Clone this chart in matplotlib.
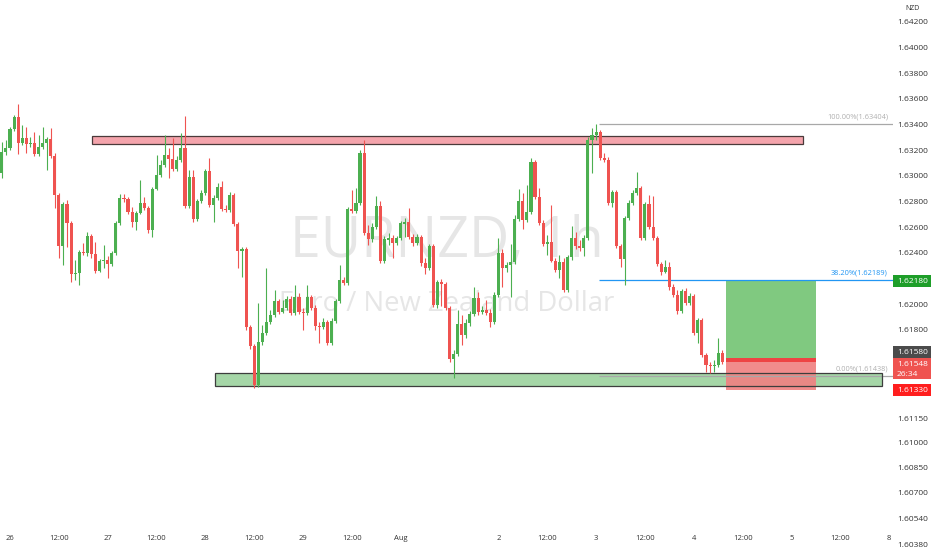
import numpy as np
import matplotlib
matplotlib.use("Agg")
import matplotlib.pyplot as plt
from matplotlib.patches import Rectangle
from matplotlib.transforms import IdentityTransform

plt.rcParams['font.family'] = ['Open Sans', 'DejaVu Sans']

# ---------------- data (EURNZD, 1h candles) ----------------
bar_index = list(range(-2, 176))

opens = [
    1.63024, 1.63186, 1.63218, 1.63366, 1.63460, 1.63257, 1.63296, 1.63249, 1.63257, 1.63171,
    1.63226, 1.63257, 1.63288, 1.63155, 1.62852, 1.62454, 1.62782, 1.62634, 1.62237, 1.62245,
    1.62407, 1.62400, 1.62532, 1.62392, 1.62260, 1.62338, 1.62345, 1.62314, 1.62400, 1.62634,
    1.62829, 1.62821, 1.62720, 1.62642, 1.62712, 1.62790, 1.62751, 1.62579, 1.62899, 1.63008,
    1.63086, 1.63163, 1.63132, 1.63054, 1.63124, 1.63218, 1.62766, 1.62992, 1.62665, 1.62805,
    1.62868, 1.63039, 1.62774, 1.62829, 1.62914, 1.62743, 1.62735, 1.62852, 1.62626, 1.62415,
    1.62431, 1.61823, 1.61675, 1.61371, 1.61706, 1.61777, 1.61862, 1.61917, 1.62026, 1.61940,
    1.61971, 1.62042, 1.61932, 1.62057, 1.61940, 1.61932, 1.62057, 1.61971, 1.61831, 1.61823,
    1.61862, 1.61699, 1.61870, 1.62026, 1.62190, 1.62166, 1.62743, 1.62727, 1.62790, 1.63179,
    1.62556, 1.62509, 1.62603, 1.62766, 1.62338, 1.62501, 1.62517, 1.62478, 1.62517, 1.62626,
    1.62642, 1.62524, 1.62478, 1.62524, 1.62322, 1.62283, 1.62454, 1.61995, 1.62174, 1.62159,
    1.61971, 1.61574, 1.61613, 1.61847, 1.61761, 1.61854, 1.61925, 1.62049, 1.61940, 1.61956,
    1.61932, 1.61862, 1.62073, 1.62400, 1.62283, 1.62306, 1.62330, 1.62665, 1.62805, 1.62657,
    1.62720, 1.63109, 1.62836, 1.62634, 1.62470, 1.62485, 1.62338, 1.62268, 1.62330, 1.62112,
    1.62369, 1.62517, 1.62454, 1.62439, 1.62517, 1.63280, 1.63319, 1.63342, 1.63140, 1.63124,
    1.62790, 1.62875, 1.62454, 1.62353, 1.62673, 1.62790, 1.62868, 1.62907, 1.62517, 1.62782,
    1.62603, 1.62517, 1.62314, 1.62252, 1.62291, 1.62135, 1.62073, 1.61948, 1.62104, 1.62010,
    1.62065, 1.61777, 1.61878, 1.61605, 1.61527, 1.61519, 1.61527, 1.61621,
]
highs = [
    1.63264, 1.63280, 1.63381, 1.63475, 1.63561, 1.63397, 1.63381, 1.63304, 1.63342, 1.63319,
    1.63381, 1.63304, 1.63374, 1.63179, 1.62868, 1.62797, 1.62813, 1.62649, 1.62345, 1.62423,
    1.62478, 1.62563, 1.62548, 1.62485, 1.62353, 1.62462, 1.62376, 1.62415, 1.62649, 1.62860,
    1.62860, 1.62836, 1.62758, 1.62727, 1.62969, 1.62836, 1.62766, 1.62914, 1.63163, 1.63124,
    1.63319, 1.63218, 1.63296, 1.63155, 1.63335, 1.63467, 1.63047, 1.63047, 1.62821, 1.62891,
    1.63054, 1.63140, 1.62852, 1.62946, 1.62961, 1.62774, 1.62875, 1.62868, 1.62642, 1.62446,
    1.62446, 1.61839, 1.61691, 1.62010, 1.61839, 1.62283, 1.61956, 1.62112, 1.62042, 1.62034,
    1.62065, 1.62065, 1.62151, 1.62088, 1.61971, 1.62151, 1.62073, 1.61995, 1.61862, 1.61893,
    1.61878, 1.61893, 1.62042, 1.62306, 1.62213, 1.62758, 1.62891, 1.62907, 1.63202, 1.63280,
    1.62618, 1.62634, 1.62844, 1.62805, 1.62532, 1.62556, 1.62540, 1.62532, 1.62649, 1.62673,
    1.62751, 1.62548, 1.62548, 1.62540, 1.62361, 1.62470, 1.62470, 1.62190, 1.62197, 1.62174,
    1.61987, 1.61644, 1.61956, 1.61917, 1.61886, 1.61948, 1.62135, 1.62096, 1.61987, 1.62034,
    1.61964, 1.62096, 1.62517, 1.62431, 1.62330, 1.62470, 1.62696, 1.62899, 1.62868, 1.62930,
    1.63140, 1.63124, 1.62907, 1.62657, 1.62540, 1.62774, 1.62361, 1.62384, 1.62361, 1.62384,
    1.62610, 1.62563, 1.62501, 1.62540, 1.63304, 1.63374, 1.63404, 1.63358, 1.63179, 1.63147,
    1.62891, 1.62891, 1.62470, 1.62688, 1.62813, 1.62891, 1.63031, 1.62922, 1.62797, 1.62852,
    1.62844, 1.62532, 1.62330, 1.62345, 1.62330, 1.62159, 1.62112, 1.62120, 1.62127, 1.62088,
    1.62081, 1.61893, 1.61893, 1.61621, 1.61551, 1.61566, 1.61738, 1.61644,
]
lows = [
    1.62985, 1.63163, 1.63202, 1.63350, 1.63171, 1.63241, 1.63179, 1.63226, 1.63155, 1.63155,
    1.63210, 1.63047, 1.63140, 1.62751, 1.62361, 1.62306, 1.62446, 1.62174, 1.62190, 1.62151,
    1.62384, 1.62376, 1.62361, 1.62245, 1.62252, 1.62283, 1.62205, 1.62299, 1.62384, 1.62618,
    1.62797, 1.62704, 1.62603, 1.62579, 1.62704, 1.62735, 1.62556, 1.62524, 1.62891, 1.62992,
    1.63070, 1.62985, 1.63039, 1.63039, 1.63109, 1.62751, 1.62751, 1.62642, 1.62649, 1.62790,
    1.62852, 1.62758, 1.62642, 1.62813, 1.62727, 1.62720, 1.62720, 1.62610, 1.62283, 1.62213,
    1.61800, 1.61652, 1.61348, 1.61356, 1.61683, 1.61761, 1.61847, 1.61901, 1.61925, 1.61932,
    1.61956, 1.61917, 1.61917, 1.61925, 1.61800, 1.61917, 1.61956, 1.61800, 1.61699, 1.61808,
    1.61683, 1.61683, 1.61854, 1.62010, 1.62151, 1.62151, 1.62712, 1.62712, 1.62774, 1.62540,
    1.62462, 1.62485, 1.62587, 1.62322, 1.62322, 1.62462, 1.62361, 1.62462, 1.62501, 1.62524,
    1.62509, 1.62454, 1.62462, 1.62299, 1.62237, 1.62268, 1.61979, 1.61971, 1.61987, 1.61956,
    1.61551, 1.61426, 1.61597, 1.61683, 1.61738, 1.61831, 1.61909, 1.61917, 1.61925, 1.61917,
    1.61823, 1.61847, 1.62057, 1.62135, 1.62252, 1.62057, 1.62314, 1.62649, 1.62587, 1.62642,
    1.62704, 1.62821, 1.62618, 1.62454, 1.62384, 1.62330, 1.62252, 1.62205, 1.62096, 1.62096,
    1.62345, 1.62431, 1.62415, 1.62376, 1.62501, 1.63024, 1.63280, 1.63124, 1.63109, 1.62774,
    1.62758, 1.62439, 1.62291, 1.62151, 1.62657, 1.62774, 1.62852, 1.62501, 1.62501, 1.62587,
    1.62501, 1.62299, 1.62228, 1.62245, 1.62112, 1.62057, 1.61925, 1.61932, 1.61995, 1.61995,
    1.61761, 1.61699, 1.61590, 1.61473, 1.61465, 1.61473, 1.61512, 1.61535,
]
closes = [
    1.63186, 1.63218, 1.63366, 1.63460, 1.63257, 1.63296, 1.63249, 1.63257, 1.63171, 1.63226,
    1.63257, 1.63288, 1.63155, 1.62852, 1.62454, 1.62782, 1.62634, 1.62237, 1.62245, 1.62407,
    1.62400, 1.62532, 1.62392, 1.62260, 1.62338, 1.62345, 1.62314, 1.62400, 1.62634, 1.62829,
    1.62821, 1.62720, 1.62642, 1.62712, 1.62790, 1.62751, 1.62579, 1.62899, 1.63008, 1.63086,
    1.63163, 1.63132, 1.63054, 1.63124, 1.63218, 1.62766, 1.62992, 1.62665, 1.62805, 1.62868,
    1.63039, 1.62774, 1.62829, 1.62914, 1.62743, 1.62735, 1.62852, 1.62626, 1.62415, 1.62431,
    1.61823, 1.61675, 1.61371, 1.61706, 1.61777, 1.61862, 1.61917, 1.62026, 1.61940, 1.61971,
    1.62042, 1.61932, 1.62057, 1.61940, 1.61932, 1.62057, 1.61971, 1.61831, 1.61823, 1.61862,
    1.61699, 1.61870, 1.62026, 1.62190, 1.62166, 1.62743, 1.62727, 1.62790, 1.63179, 1.62556,
    1.62509, 1.62603, 1.62766, 1.62338, 1.62509, 1.62517, 1.62478, 1.62517, 1.62634, 1.62642,
    1.62524, 1.62478, 1.62524, 1.62322, 1.62283, 1.62454, 1.61995, 1.62174, 1.62159, 1.61971,
    1.61574, 1.61613, 1.61847, 1.61761, 1.61854, 1.61925, 1.62049, 1.61940, 1.61956, 1.61932,
    1.61862, 1.62073, 1.62400, 1.62283, 1.62306, 1.62330, 1.62665, 1.62805, 1.62657, 1.62720,
    1.63109, 1.62836, 1.62634, 1.62470, 1.62485, 1.62338, 1.62268, 1.62330, 1.62112, 1.62369,
    1.62517, 1.62454, 1.62439, 1.62517, 1.63280, 1.63319, 1.63342, 1.63140, 1.63124, 1.62790,
    1.62875, 1.62454, 1.62353, 1.62673, 1.62790, 1.62868, 1.62907, 1.62517, 1.62782, 1.62603,
    1.62517, 1.62314, 1.62252, 1.62291, 1.62135, 1.62073, 1.61948, 1.62104, 1.62010, 1.62065,
    1.61777, 1.61878, 1.61605, 1.61527, 1.61519, 1.61527, 1.61621, 1.61548,
]

# drawings
resistance_zone = (1.63249, 1.63311)   # red box
support_zone = (1.61366, 1.61462)      # green box
fib_levels = [1.63404, 1.62189, 1.61438]
fib_labels = ["100.00%(1.63404)", "38.20%(1.62189)", "0.00%(1.61438)"]
entry_price = 1.61580
target_price = 1.62180
stop_price = 1.61330
last_price = 1.61548
countdown = "26:34"

xtick_pos = [0, 12, 24, 36, 48, 60, 72, 84, 96, 120, 132, 144, 156, 168, 180, 192, 204, 216]
xtick_labels = ["26", "12:00", "27", "12:00", "28", "12:00", "29", "12:00", "Aug",
                "2", "12:00", "3", "12:00", "4", "12:00", "5", "12:00", "8"]
ytick_vals = [1.642, 1.640, 1.638, 1.636, 1.634, 1.632, 1.630, 1.628, 1.626, 1.624,
              1.620, 1.618, 1.6115, 1.6100, 1.6085, 1.6070, 1.6054, 1.6038]

# ---------------- figure ----------------
W, H = 932, 550
fig = plt.figure(figsize=(W / 100, H / 100), dpi=100)
fig.patch.set_facecolor("white")
AX_W = 893
ax = fig.add_axes([0, 0, AX_W / W, 1])

BREAK, K = 1.6128, 1.28


def fwd(v):
    v = np.asarray(v, dtype=float)
    return np.where(v >= BREAK, v, BREAK - (BREAK - v) * K)


def inv(t):
    t = np.asarray(t, dtype=float)
    return np.where(t >= BREAK, t, BREAK - (BREAK - t) / K)


ax.set_yscale("function", functions=(fwd, inv))
ax.set_ylim(1.60347, 1.64371)
ax.set_xlim(-2.46, 216.95)

GREEN = "#4CAF50"
RED = "#EF5350"

o = np.array(opens); h = np.array(highs); l = np.array(lows); c = np.array(closes)
x = np.array(bar_index)
up = c >= o
cols = np.where(up, GREEN, RED)

ax.vlines(x, l, h, colors=cols, linewidth=0.8, zorder=3)
body_lo = np.minimum(o, c)
body_h = np.maximum(np.abs(c - o), 0.00007)
ax.bar(x, body_h, bottom=body_lo, width=0.76, color=cols, linewidth=0, zorder=4)

# watermark
ax.text(0.5, 1 - 257 / H, "EURNZD, 1h", transform=ax.transAxes, ha="center", va="baseline",
        fontsize=40, color="#e6e6e6", zorder=0)
ax.text(0.5, 1 - 311 / H, "Euro / New Zealand Dollar", transform=ax.transAxes, ha="center",
        va="baseline", fontsize=19.8, color="#e6e6e6", zorder=0)

# zones
ax.add_patch(Rectangle((20.1, resistance_zone[0]), 194.9 - 20.1, resistance_zone[1] - resistance_zone[0],
                       facecolor="#F4A4AC", edgecolor="none", zorder=1))
ax.add_patch(Rectangle((20.1, resistance_zone[0]), 194.9 - 20.1, resistance_zone[1] - resistance_zone[0],
                       facecolor="none", edgecolor="#4a3a3a", linewidth=0.9, zorder=1.6))
ax.add_patch(Rectangle((50.4, support_zone[0]), 214.2 - 50.4, support_zone[1] - support_zone[0],
                       facecolor="#A5D6A7", edgecolor="none", zorder=1))

# long position tool
px0, px1 = 175.9, 198.0
ax.add_patch(Rectangle((px0, entry_price), px1 - px0, target_price - entry_price,
                       facecolor="#80C980", edgecolor="none", zorder=1.2))
ax.add_patch(Rectangle((px0, stop_price), px1 - px0, entry_price - stop_price,
                       facecolor="#F08282", edgecolor="none", alpha=0.92, zorder=1.2))
ax.add_patch(Rectangle((px0, last_price), px1 - px0, entry_price - last_price,
                       facecolor="#EE4444", edgecolor="none", zorder=1.3))
ax.add_patch(Rectangle((50.4, support_zone[0]), 214.2 - 50.4, support_zone[1] - support_zone[0],
                       facecolor="none", edgecolor="#3d3d3d", linewidth=0.9, zorder=1.6))

# fib retracement
fib_x0 = 144.8
fib_cols = ["#A8A8A8", "#2196F3", "#A8A8A8"]
for lv, lab, col in zip(fib_levels, fib_labels, fib_cols):
    ax.hlines(lv, fib_x0, 216.95, colors=col, linewidth=0.9, zorder=1.5)
    ax.annotate(lab, (215.7, lv), xytext=(0, 2.5), textcoords="offset points",
                ha="right", va="bottom", fontsize=5.3, color=col if col != "#A8A8A8" else "#B0B0B0",
                zorder=5)

# axes styling
for s in ax.spines.values():
    s.set_visible(False)
ax.set_xticks(xtick_pos, xtick_labels)
ax.tick_params(axis="x", length=0, pad=-10.5, labelsize=5.5, labelcolor="#333333")
ax.yaxis.tick_right()
ax.set_yticks(ytick_vals, [f"{v:.5f}" for v in ytick_vals])
ax.tick_params(axis="y", length=0, pad=3, labelsize=6, labelcolor="#333333")
ax.set_facecolor("white")

fig.text(905 / W, 1 - 8 / H, "NZD", fontsize=5, color="#333333", va="center")


# price tags on the scale
def ydisp(v):
    return ax.transData.transform((0, v))[1]


def tag(yc, hgt, bg, lines):
    fig.add_artist(Rectangle((AX_W, yc - hgt / 2), 38, hgt, transform=IdentityTransform(),
                             facecolor=bg, edgecolor="none", zorder=10, clip_on=False))
    for txt, dy in lines:
        fig.text(AX_W + 4, yc + dy, txt, transform=IdentityTransform(), fontsize=6,
                 color="white", va="center", ha="left", zorder=11)


tag(ydisp(target_price), 12, "#1E9E29", [(f"{target_price:.5f}", 0)])
tag(ydisp(entry_price) + 6, 12, "#4B4B4B", [(f"{entry_price:.5f}", 0)])
tag(ydisp(last_price) - 6.5, 21, "#EF5350", [(f"{last_price:.5f}", 4.5), (countdown, -5.5)])
tag(ydisp(stop_price), 12, "#FF1E1E", [(f"{stop_price:.5f}", 0)])

fig.savefig("out.png", dpi=100, facecolor="white")
